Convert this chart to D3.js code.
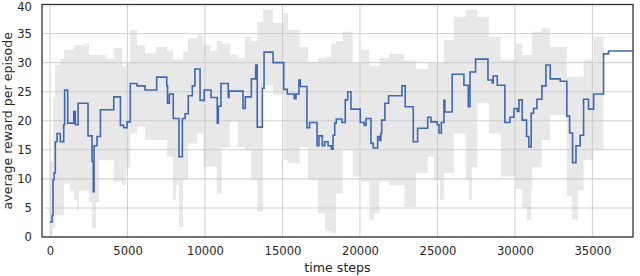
<!DOCTYPE html>
<html>
<head>
<meta charset="utf-8">
<script src="https://cdn.jsdelivr.net/npm/d3@7/dist/d3.min.js"></script>
<style>
  html, body { margin: 0; padding: 0; background: #fff; }
  svg { display: block; }
  text { font-family: "DejaVu Sans", sans-serif; fill: #262626; }
</style>
</head>
<body>
<svg id="chart" width="640" height="276"></svg>
<script>
// ---- data ----
const stepX = [0,130,190,260,340,450,660,880,940,1140,1530,1630,1810,2450,2710,2790,2840,3030,3250,4110,4540,4750,4970,5180,5610,6130,6880,7530,7580,7700,7950,8320,8540,8710,8920,9180,9350,9680,9950,10390,10790,10860,11030,11500,11550,12450,12600,12990,13270,13370,13700,13810,14390,15080,15310,15760,15870,16060,16150,16580,16750,17230,17350,17570,17720,17940,18150,18260,18370,18470,18840,19050,19210,19420,20020,20280,20390,20710,20860,21140,21260,21350,21400,21610,21850,22710,22920,23440,23720,24370,24580,24990,25100,25250,25420,25480,25950,26710,26990,27100,27460,28260,28540,28600,28860,29350,29680,29940,30150,30260,30470,30750,30900,31050,31200,31420,31740,32000,32280,32920,33350,33530,33720,33940,34210,34430,34750,35080,35720,36040,37590];
const meanReward = [2.6,3.7,9.8,11.0,16.4,17.8,16.4,19.3,25.3,19.6,21.6,19.3,23.0,17.4,13.0,7.8,15.7,17.3,21.9,24.1,19.2,18.8,19.8,26.4,26.0,25.3,27.5,26.0,23.0,24.6,20.4,13.8,20.4,21.2,24.3,26.0,28.9,23.5,25.3,24.0,19.6,22.5,26.4,24.0,25.1,22.1,24.1,27.2,29.6,18.9,25.6,31.8,30.0,25.4,24.6,23.8,24.6,27.0,25.9,18.8,19.7,15.7,17.4,15.7,16.4,15.7,15.1,17.5,19.6,20.3,19.7,23.6,25.0,22.0,19.7,19.2,20.4,16.1,15.3,17.3,16.6,17.8,20.1,23.0,24.3,26.0,22.4,16.4,18.7,20.6,19.8,19.3,17.9,19.7,23.5,21.5,28.0,26.1,22.4,28.4,30.6,27.0,26.5,27.7,26.1,19.7,20.6,22.1,21.6,23.6,20.1,17.3,15.5,21.3,22.1,23.7,26.0,29.6,27.2,26.8,20.8,17.9,12.8,15.7,17.5,23.7,22.0,24.6,31.5,32.0,32.0];

const bandX = [0,194,323,645,903,1290,1548,1742,1871,2258,2516,2710,2968,3161,3613,4110,4645,4903,5161,5613,6129,6839,7548,7935,8129,8323,8581,8903,9484,9890,10323,10755,11077,11613,12129,12561,12987,13374,13742,14387,15077,15355,16110,16645,17290,17742,18148,18452,18884,19529,20065,20600,20903,21245,21890,22858,23613,24368,24774,25161,25419,26065,26819,27032,27226,27568,28323,29077,30045,30471,30774,31032,31097,31742,32277,33355,33677,34065,34432,35077,35723];
const bandLow = [0.3,1.5,3.7,3.7,9.2,8.0,6.4,4.6,8.0,8.0,6.0,1.5,6.0,13.2,13.2,9.5,8.9,12.0,17.8,19.0,16.7,16.7,13.8,6.4,8.9,1.7,9.8,16.1,17.8,12.1,12.1,7.5,15.4,19.8,15.5,14.9,9.8,4.4,26.1,24.5,13.2,12.7,15.5,9.8,4.1,1.0,0.7,7.5,15.0,10.4,9.5,2.9,4.0,9.5,8.9,5.2,11.0,13.8,9.8,6.4,11.0,17.8,10.0,6.4,12.0,23.0,17.8,10.4,8.3,5.0,2.9,8.0,12.0,16.7,21.0,7.0,3.0,8.0,13.2,15.0,15.0];
const bandHigh = [13.0,24.0,29.6,30.7,32.2,32.2,33.0,33.0,33.0,33.3,31.3,31.3,31.3,31.3,30.7,32.5,29.4,30.0,35.6,33.0,31.6,32.7,32.1,30.5,30.5,30.5,31.9,34.2,34.8,33.0,32.0,33.7,33.3,31.3,30.8,34.4,33.7,37.0,39.1,36.8,38.5,35.6,32.7,30.1,30.8,31.0,33.3,33.7,35.3,29.9,32.2,29.4,29.4,30.8,31.5,30.4,28.9,29.9,29.9,29.9,33.9,37.9,39.1,39.1,39.1,37.9,34.5,30.5,33.3,31.3,31.3,31.3,35.3,35.9,32.7,27.6,27.6,27.6,30.5,34.5,34.5];

const xTicks = [0,5000,10000,15000,20000,25000,30000,35000];
const yTicks = [0,5,10,15,20,25,30,35,40];

// ---- chart ----
const svg = d3.select("#chart");
const L = 42, R = 633, T = 4.5, B = 237;
const x = d3.scaleLinear().domain([-520, 37620]).range([L, R]);
const y = d3.scaleLinear().domain([0, 40]).range([B, T]);

// grid
const grid = svg.append("g");
grid.selectAll("line.v").data(xTicks).join("line")
  .attr("x1", d => x(d)).attr("x2", d => x(d))
  .attr("y1", T).attr("y2", B)
  .attr("stroke", "#d3d3d3").attr("stroke-width", 1.1);
grid.selectAll("line.h").data(yTicks).join("line")
  .attr("y1", d => y(d)).attr("y2", d => y(d))
  .attr("x1", L).attr("x2", R)
  .attr("stroke", "#d3d3d3").attr("stroke-width", 1.1);

// band
const bandData = bandX.map((d, i) => ({x: d, lo: bandLow[i], hi: bandHigh[i]}));
svg.append("path")
  .datum(bandData)
  .attr("d", d3.area().curve(d3.curveStepAfter)
    .x(d => x(d.x)).y0(d => y(d.lo)).y1(d => y(d.hi)))
  .attr("fill", "#c8c8c8").attr("fill-opacity", 0.42);

// mean line
const lineData = stepX.map((d, i) => ({x: d, y: meanReward[i]}));
svg.append("path")
  .datum(lineData)
  .attr("d", d3.line().curve(d3.curveStepAfter).x(d => x(d.x)).y(d => y(d.y)))
  .attr("fill", "none").attr("stroke", "#3f68b0").attr("stroke-width", 1.6);

// axes (labels only, no tick marks)
const xAxis = svg.append("g").attr("transform", `translate(0,${B})`)
  .call(d3.axisBottom(x).tickValues(xTicks).tickSize(0).tickPadding(10).tickFormat(d3.format("d")));
const yAxis = svg.append("g").attr("transform", `translate(${L},0)`)
  .call(d3.axisLeft(y).tickValues(yTicks).tickSize(0).tickPadding(10));
[xAxis, yAxis].forEach(a => {
  a.select(".domain").remove();
  a.selectAll("text").style("font-family", "DejaVu Sans, sans-serif")
    .style("font-size", "11.6px").attr("fill", "#262626");
});
// keep the top label inside the picture
yAxis.selectAll(".tick").filter(d => d === 40).select("text").attr("dy", "0.5em");

// frame
svg.append("rect").attr("x", L).attr("y", T).attr("width", R - L).attr("height", B - T)
  .attr("fill", "none").attr("stroke", "#333").attr("stroke-width", 1.3);

// axis labels
svg.append("text").attr("x", (L + R) / 2).attr("y", 272)
  .attr("text-anchor", "middle").style("font-size", "12.6px").text("time steps");
svg.append("text").attr("transform", `translate(12,${(T + B) / 2}) rotate(-90)`)
  .attr("text-anchor", "middle").style("font-size", "12.6px").text("average reward per episode");
</script>
</body>
</html>
